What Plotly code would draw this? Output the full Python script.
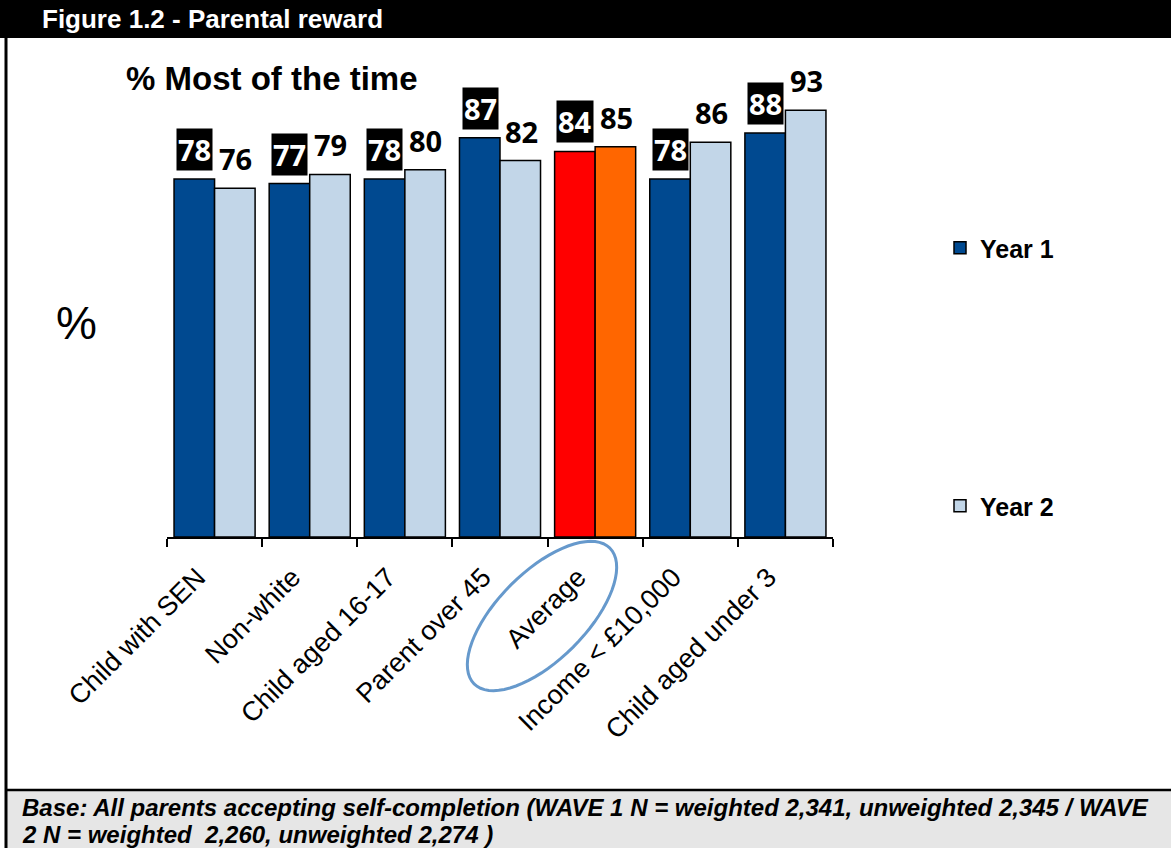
import math
import plotly.graph_objects as go

categories = ["Child with SEN", "Non-white", "Child aged 16-17", "Parent over 45",
              "Average", "Income < £10,000", "Child aged under 3"]
year1 = [78, 77, 78, 87, 84, 78, 88]
year2 = [76, 79, 80, 82, 85, 86, 93]
series_names = ["Year 1", "Year 2"]
highlight = "Average"

BLUE1 = "#004990"
BLUE2 = "#c2d6e8"
RED = "#ff0000"
ORANGE = "#ff6600"
colors1 = [RED if c == highlight else BLUE1 for c in categories]
colors2 = [ORANGE if c == highlight else BLUE2 for c in categories]

W, H = 1171, 848
L, R, T, B = 167, 338, 78, 311
PW, PH = W - L - R, H - T - B


def px(x):
    return (x - L) / PW


def py(y):
    return (H - B - y) / PH


fig = go.Figure()
fig.add_trace(go.Bar(name=series_names[0], x=categories, y=year1,
                     marker=dict(color=colors1, line=dict(color="black", width=1.5)),
                     legend="legend", hoverinfo="skip"))
fig.add_trace(go.Bar(name=series_names[1], x=categories, y=year2,
                     marker=dict(color=colors2, line=dict(color="black", width=1.5)),
                     legend="legend2", hoverinfo="skip"))

annotations = []
label_font = dict(family="Open Sans, DejaVu Sans, sans-serif", size=29, weight="bold")
for c, v in zip(categories, year1):
    annotations.append(dict(x=c, y=v, xref="x", yref="y", text=str(v), showarrow=False,
                            xanchor="center", yanchor="bottom", xshift=-20, yshift=8,
                            bgcolor="black", borderpad=1,
                            font=dict(color="white", **label_font)))
for c, v in zip(categories, year2):
    annotations.append(dict(x=c, y=v, xref="x", yref="y", text=str(v), showarrow=False,
                            xanchor="center", yanchor="bottom", xshift=21, yshift=8,
                            font=dict(color="black", **label_font)))

base_font = "Liberation Sans, Arial, sans-serif"
annotations.append(dict(x=px(40), y=py(19), xref="paper", yref="paper",
                        text="<b>Figure 1.2 - Parental reward</b>", showarrow=False,
                        xanchor="left", yanchor="middle",
                        font=dict(family=base_font, size=26, color="white")))
annotations.append(dict(x=px(124), y=py(78), xref="paper", yref="paper",
                        text="<b>% Most of the time</b>", showarrow=False,
                        xanchor="left", yanchor="middle",
                        font=dict(family=base_font, size=33, color="black")))
annotations.append(dict(x=px(76), y=py(323), xref="paper", yref="paper",
                        text="%", showarrow=False, xanchor="center", yanchor="middle",
                        font=dict(family=base_font, size=46, color="black")))
footer_lines = ["Base: All parents accepting self-completion (WAVE 1 N = weighted 2,341, unweighted 2,345 / WAVE",
                "2 N = weighted  2,260, unweighted 2,274 )"]
for line, yy in zip(footer_lines, [807, 834]):
    annotations.append(dict(x=px(20), y=py(yy), xref="paper", yref="paper",
                            text=f"<b><i>{line}</i></b>", showarrow=False,
                            xanchor="left", yanchor="middle", align="left",
                            font=dict(family=base_font, size=24, color="black")))

shapes = []
shapes.append(dict(type="rect", xref="paper", yref="paper", x0=px(-2), x1=px(W + 2),
                   y0=py(38), y1=py(-2), fillcolor="black", line=dict(width=0), layer="below"))
shapes.append(dict(type="rect", xref="paper", yref="paper", x0=px(6), x1=px(W + 2),
                   y0=py(H + 2), y1=py(790), fillcolor="#e6e6e6", line=dict(width=0), layer="below"))
shapes.append(dict(type="line", xref="paper", yref="paper", x0=px(6), x1=px(W + 2),
                   y0=py(790), y1=py(790), line=dict(color="black", width=2.5)))
shapes.append(dict(type="line", xref="paper", yref="paper", x0=px(6), x1=px(6),
                   y0=py(36), y1=py(H + 2), line=dict(color="black", width=3)))

# ellipse around "Average"
cx, cy, a, b = 542, 616, 96, 44
ux, uy = 1 / math.sqrt(2), -1 / math.sqrt(2)
vx, vy = 1 / math.sqrt(2), 1 / math.sqrt(2)
pts = []
for i in range(73):
    t = 2 * math.pi * i / 72
    X = cx + a * math.cos(t) * ux + b * math.sin(t) * vx
    Y = cy + a * math.cos(t) * uy + b * math.sin(t) * vy
    pts.append((px(X), py(Y)))
path = "M" + " L".join(f"{x:.5f},{y:.5f}" for x, y in pts) + " Z"
shapes.append(dict(type="path", xref="paper", yref="paper", path=path,
                   line=dict(color="#6699cc", width=3)))

legend_font = dict(family=base_font, size=25, color="black", weight="bold")

fig.update_layout(
    width=W, height=H,
    margin=dict(l=L, r=R, t=T, b=B, pad=0),
    paper_bgcolor="white", plot_bgcolor="white",
    barmode="group", bargap=0.148, bargroupgap=0,
    showlegend=True,
    legend=dict(x=px(940), y=py(248), xanchor="left", yanchor="middle",
                font=legend_font, bgcolor="rgba(0,0,0,0)"),
    legend2=dict(x=px(940), y=py(506), xanchor="left", yanchor="middle",
                 font=legend_font, bgcolor="rgba(0,0,0,0)"),
    xaxis=dict(showline=True, linecolor="black", linewidth=1.5, ticks="outside",
               tickson="boundaries", ticklen=8, tickcolor="black", tickwidth=1.5,
               tickangle=-45, showgrid=False, zeroline=False,
               ticklabelstandoff=12, ticklabelshift=-17,
               tickfont=dict(family=base_font, size=27, color="black")),
    yaxis=dict(range=[0, 100], visible=False, fixedrange=True),
    annotations=annotations,
    shapes=shapes,
)

fig.write_html("out.html", config={"displayModeBar": False},
               post_script="document.body.style.margin='0';document.body.style.overflow='hidden';")
